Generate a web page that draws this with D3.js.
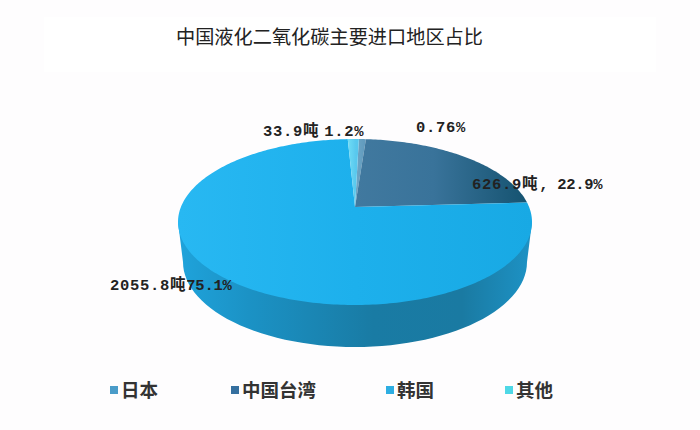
<!DOCTYPE html>
<html>
<head>
<meta charset="utf-8">
<script src="https://cdn.jsdelivr.net/npm/d3@7"></script>
<style>
body { margin: 0; background: #fefdfe; }
svg { display: block; }
.label { font-family: "Liberation Mono", "Noto Sans CJK SC", monospace; font-size: 15.5px; font-weight: bold; fill: #222; letter-spacing: 0.7px; }
.legend { font-family: "Noto Sans CJK SC", sans-serif; font-size: 18.5px; font-weight: 700; fill: #333; }
.title { font-family: "Noto Sans CJK SC", sans-serif; font-size: 19.2px; font-weight: 400; fill: #222; }
</style>
</head>
<body>
<div id="chart"></div>
<script>
// values
var titleText = "中国液化二氧化碳主要进口地区占比"
var regions = ["日本", "中国台湾", "韩国", "其他"]
var shares = [0.76, 22.9, 75.1, 1.2]
var shareLabels = ["0.76%", ", 22.9%", "75.1%", "1.2%"]
var tonLabels = ["", "626.9", "2055.8", "33.9"]

var regionColors = ["#4a9cc9", "#356f9f", "#2eaee2", "#4fd8e6"]
var labelPos = [[416, 132], [472, 189], [110, 290], [263, 136]]
var legendX = [110, 231, 386, 505]

var width = 700, height = 430

var svg = d3.select("#chart").append("svg")
    .attr("width", width)
    .attr("height", height)

// white panel behind the title
svg.append("rect")
    .attr("x", 44).attr("y", 17)
    .attr("width", 612).attr("height", 55)
    .attr("fill", "#ffffff")

svg.append("text")
    .attr("class", "title")
    .attr("x", 176).attr("y", 44)
    .text(titleText)

var defs = svg.append("defs")

function gradient(id, x1, x2, stops) {
    var g = defs.append("linearGradient")
        .attr("id", id)
        .attr("gradientUnits", "userSpaceOnUse")
        .attr("x1", x1).attr("x2", x2)
        .attr("y1", 0).attr("y2", 0)
    stops.forEach(function (s) {
        g.append("stop").attr("offset", s[0]).attr("stop-color", s[1])
    })
    return "url(#" + id + ")"
}

var topFills = [
    gradient("g0", 355, 368, [[0, "#6fa7c6"], [1, "#5c97bb"]]),
    gradient("g1", 355, 530, [[0, "#41799f"], [0.45, "#39739a"], [1, "#14526f"]]),
    gradient("g2", 178, 533, [[0, "#28b8f2"], [0.5, "#1db0ec"], [1, "#18a9e4"]]),
    gradient("g3", 348, 356, [[0, "#6fdcf5"], [1, "#58c8ee"]])
]
var sideFill = gradient("side", 178, 533, [[0, "#1fa3db"], [0.2, "#1b92c5"], [0.55, "#197ba4"], [0.8, "#1a7aa2"], [1, "#1d93c6"]])

// the disc is a circle seen in perspective, centre sits above the middle of the ellipse
var cx = 355, cy = 222, rx = 177, ry = 83, tilt = -0.18
var xScale = d3.scaleLinear().domain([-1, 1]).range([cx - rx, cx + rx])
var yScale = d3.scaleLinear().domain([-1, 1]).range([cy - ry, cy + ry])

var project = function (r, a) {
    var x = r * Math.sin(a), y = -r * Math.cos(a)
    var k = 1 + tilt * y
    return [xScale(x * Math.sqrt(1 - tilt * tilt) / k), yScale((y + tilt) / k)]
}

var line = d3.line()

// side wall: lower half of the bottom ellipse, joined to the top ellipse
var wall = [[cx - rx, cy]]
for (var t = 180; t >= 0; t -= 3) {
    var a = t * Math.PI / 180
    wall.push([cx + 172 * Math.cos(a), 262 + 85 * Math.sin(a)])
}
wall.push([cx + rx, cy])
svg.append("path")
    .attr("d", line(wall) + "Z")
    .attr("fill", sideFill)

var pie = d3.pie().sort(null).startAngle(1.5 * Math.PI / 180).endAngle(361.5 * Math.PI / 180)
var slices = pie(shares)

svg.selectAll(".slice")
    .data(slices)
    .enter()
    .append("path")
    .attr("class", "slice")
    .attr("fill", function (d, i) { return topFills[i] })
    .attr("d", function (d) {
        var pts = [project(0, 0)]
        var n = Math.max(2, Math.ceil((d.endAngle - d.startAngle) * 60))
        for (var i = 0; i <= n; i++) {
            pts.push(project(1, d.startAngle + (d.endAngle - d.startAngle) * i / n))
        }
        return line(pts) + "Z"
    })

// labels
var labels = svg.selectAll(".label")
    .data(regions)
    .enter()
    .append("text")
    .attr("class", "label")
    .attr("x", function (d, i) { return labelPos[i][0] })
    .attr("y", function (d, i) { return labelPos[i][1] })

labels.each(function (d, i) {
    var el = d3.select(this)
    if (tonLabels[i] != "") {
        el.append("tspan").text(tonLabels[i])
        el.append("tspan").text("吨")
        var pct = el.append("tspan").text(shareLabels[i])
        if (i == 3) pct.attr("dx", 5)
        if (i == 2) pct.style("letter-spacing", "-0.2px")
        if (i == 1) pct.attr("dx", 1).style("letter-spacing", "-0.3px")
    } else {
        el.append("tspan").text(shareLabels[i])
    }
})

// legend
regions.forEach(function (r, i) {
    svg.append("rect")
        .attr("x", legendX[i]).attr("y", 386)
        .attr("width", 8).attr("height", 8)
        .attr("fill", regionColors[i])
    svg.append("text")
        .attr("class", "legend")
        .attr("x", legendX[i] + 11).attr("y", 397)
        .text(r)
})
</script>
</body>
</html>
